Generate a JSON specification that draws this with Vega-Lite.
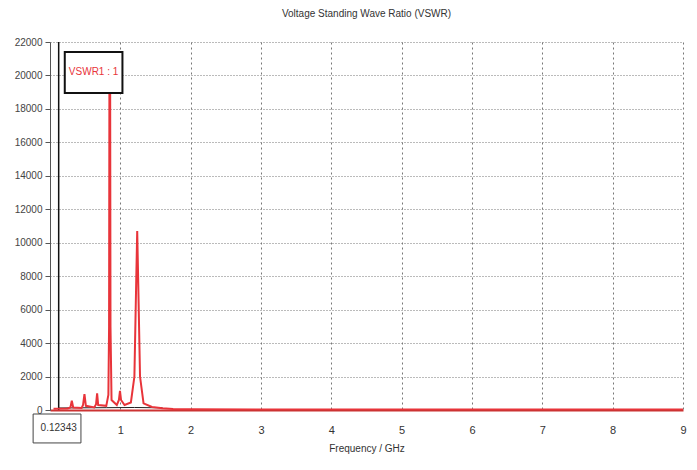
{
  "$schema": "https://vega.github.io/schema/vega-lite/v6.json",
  "autosize": {"type": "none"},
  "width": 633,
  "height": 368,
  "padding": {"left": 50, "top": 42, "right": 14, "bottom": 60},
  "background": "white",
  "title": {"text": "Voltage Standing Wave Ratio (VSWR)", "fontSize": 10, "fontWeight": "normal", "color": "#333", "font": "Liberation Sans Narrow, Liberation Sans, sans-serif", "offset": 18},
  "config": {
    "view": {"stroke": null},
    "font": "Liberation Sans Narrow, Liberation Sans, sans-serif",
    "axis": {"labelOverlap": false, "labelBound": false, "labelFlush": false}
  },
  "datasets": {
    "trace": [
      {"f": 0.05, "v": 80}, {"f": 0.25, "v": 90}, {"f": 0.29, "v": 150}, {"f": 0.31, "v": 560}, {"f": 0.33, "v": 150},
      {"f": 0.45, "v": 120}, {"f": 0.47, "v": 300}, {"f": 0.49, "v": 950}, {"f": 0.51, "v": 250},
      {"f": 0.63, "v": 150}, {"f": 0.655, "v": 350}, {"f": 0.67, "v": 1000}, {"f": 0.685, "v": 300},
      {"f": 0.8, "v": 250}, {"f": 0.83, "v": 900}, {"f": 0.84, "v": 5000}, {"f": 0.845, "v": 20500}, {"f": 0.855, "v": 20500}, {"f": 0.86, "v": 5000}, {"f": 0.875, "v": 600},
      {"f": 0.95, "v": 300}, {"f": 0.98, "v": 600}, {"f": 0.995, "v": 1150}, {"f": 1.01, "v": 600}, {"f": 1.06, "v": 300},
      {"f": 1.15, "v": 450}, {"f": 1.2, "v": 2000}, {"f": 1.225, "v": 7500}, {"f": 1.24, "v": 10700}, {"f": 1.255, "v": 7500}, {"f": 1.28, "v": 2000}, {"f": 1.33, "v": 400},
      {"f": 1.45, "v": 180}, {"f": 1.6, "v": 110}, {"f": 1.75, "v": 60}, {"f": 2.0, "v": 40}, {"f": 3.0, "v": 30},
      {"f": 4.0, "v": 30}, {"f": 5.0, "v": 30}, {"f": 6.0, "v": 30}, {"f": 7.0, "v": 30}, {"f": 8.0, "v": 30}, {"f": 9.0, "v": 30}
    ],
    "base": [
      {"f": 0.12343, "v": 120}, {"f": 0.4, "v": 130}, {"f": 0.8, "v": 140}, {"f": 1.2, "v": 150}, {"f": 1.6, "v": 130}
    ],
    "marker": [{"f": 0.12343, "v0": 0, "v1": 22000, "label": "0.12343", "f1": -0.24, "f2": 0.44, "b1": -240, "b2": -1970, "ty": -1100}],
    "note": [{"f1": 0.21, "f2": 1.03, "v1": 18950, "v2": 21400, "tf": 0.62, "tv": 20180, "label": "VSWR1 : 1"}]
  },
  "layer": [
    {
      "data": {"name": "base"},
      "mark": {"type": "line", "color": "#222", "strokeWidth": 1},
      "encoding": {
        "x": {"field": "f", "type": "quantitative", "scale": {"domain": [0, 9], "nice": false, "zero": false},
          "axis": {"values": [1, 2, 3, 4, 5, 6, 7, 8, 9], "format": "d", "title": "Frequency / GHz", "titleFontSize": 10, "titleFontWeight": "normal", "titleColor": "#333", "titlePadding": 8,
            "labelFontSize": 11, "labelColor": "#333", "labelPadding": 14, "tickSize": 0, "domainColor": "#c33", "domainWidth": 2, "labelOverlap": false,
            "grid": true, "gridColor": "#777", "gridDash": [2, 3], "gridWidth": 1}},
        "y": {"field": "v", "type": "quantitative", "scale": {"domain": [0, 22000], "nice": false},
          "axis": {"tickCount": 11, "title": null, "labelExpr": "format(datum.value, 'd')", "labelOverlap": false,
            "labelFontSize": 10, "labelColor": "#444", "labelPadding": 3, "tickSize": 5, "tickColor": "#555", "domainColor": "#555",
            "grid": true, "gridColor": "#777", "gridDash": [1, 2], "gridWidth": 1}}
      }
    },
    {
      "data": {"name": "marker"},
      "mark": {"type": "rule", "color": "#111", "strokeWidth": 1.5},
      "encoding": {
        "x": {"field": "f", "type": "quantitative"},
        "y": {"field": "v0", "type": "quantitative"},
        "y2": {"field": "v1"}
      }
    },
    {
      "data": {"name": "trace"},
      "mark": {"type": "line", "color": "#e8343a", "strokeWidth": 2, "clip": true},
      "encoding": {
        "x": {"field": "f", "type": "quantitative"},
        "y": {"field": "v", "type": "quantitative"}
      }
    },
    {
      "data": {"name": "note"},
      "mark": {"type": "rect", "fill": "white", "stroke": "#111", "strokeWidth": 2},
      "encoding": {
        "x": {"field": "f1", "type": "quantitative"},
        "x2": {"field": "f2"},
        "y": {"field": "v1", "type": "quantitative"},
        "y2": {"field": "v2"}
      }
    },
    {
      "data": {"name": "note"},
      "mark": {"type": "text", "color": "#e8343a", "fontSize": 10, "align": "center", "baseline": "middle"},
      "encoding": {
        "x": {"field": "tf", "type": "quantitative"},
        "y": {"field": "tv", "type": "quantitative"},
        "text": {"field": "label"}
      }
    },
    {
      "data": {"name": "marker"},
      "mark": {"type": "rect", "fill": "white", "stroke": "#444", "strokeWidth": 1, "clip": false},
      "encoding": {
        "x": {"field": "f1", "type": "quantitative"},
        "x2": {"field": "f2"},
        "y": {"field": "b1", "type": "quantitative"},
        "y2": {"field": "b2"}
      }
    },
    {
      "data": {"name": "marker"},
      "mark": {"type": "text", "color": "#333", "fontSize": 10, "align": "center", "baseline": "middle", "clip": false},
      "encoding": {
        "x": {"field": "f", "type": "quantitative"},
        "y": {"field": "ty", "type": "quantitative"},
        "text": {"field": "label"}
      }
    }
  ]
}
